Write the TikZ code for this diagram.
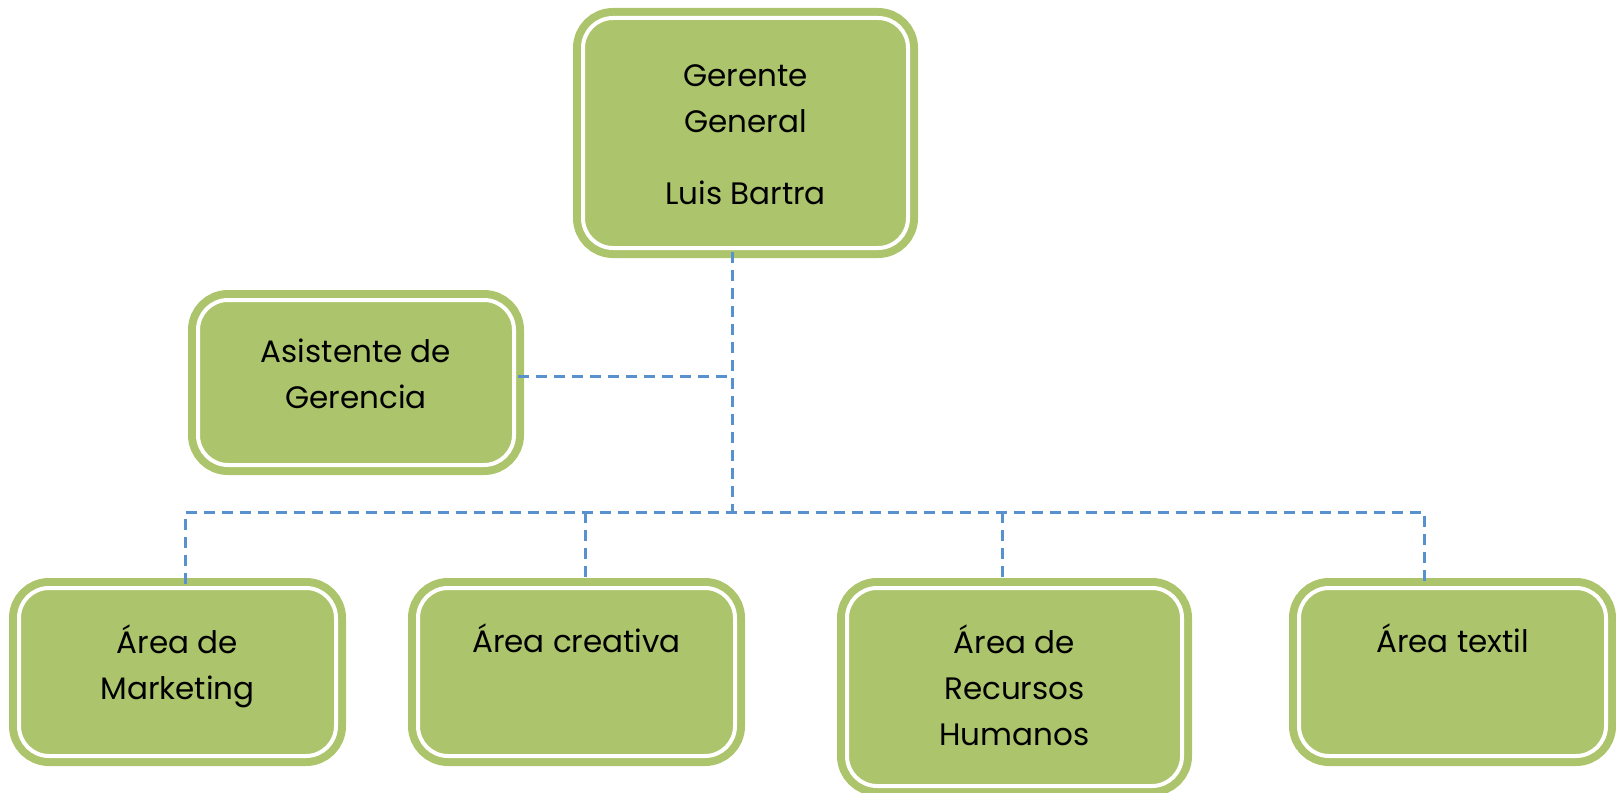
\documentclass[tikz,border=0pt]{standalone}
\usepackage{fontspec}
\setmainfont{Poppins}

\definecolor{boxgreen}{RGB}{172,196,108}
\definecolor{linkblue}{RGB}{88,146,206}

\tikzset{
  box/.style={draw=boxgreen, fill=boxgreen, line width=8pt,
    double=white, double distance=4pt, rounded corners=30pt,
    align=center, inner sep=0pt, font=\fontsize{31}{46}\selectfont},
  link/.style={draw=linkblue, line width=3pt, dash pattern=on 11pt off 7pt}
}

\begin{document}
\begin{tikzpicture}[x=1pt, y=-1pt]

\useasboundingbox (0,0) rectangle (1616,792);

% Boxes
\node[box, minimum width=325pt, minimum height=230pt,
  text height=150pt, text depth=8pt] (gg) at (745.5,133)
  {Gerente\\General\\[26pt]Luis Bartra};
\node[box, minimum width=316pt, minimum height=165pt,
  text height=60pt, text depth=9pt] (asis) at (356,382.5)
  {Asistente de\\Gerencia};
\node[box, minimum width=317pt, minimum height=168pt,
  text height=60pt, text depth=6pt] (mkt) at (177.5,672)
  {Área de\\Marketing};
\node[box, minimum width=317pt, minimum height=168pt,
  text height=20pt, text depth=59pt] (cre) at (576.5,672)
  {Área creativa};
\node[box, minimum width=335pt, minimum height=198pt,
  text height=120pt, text depth=4pt] (rrhh) at (1014.5,687)
  {Área de\\Recursos\\Humanos};
\node[box, minimum width=307pt, minimum height=168pt,
  text height=20pt, text depth=59pt] (tex) at (1452.5,672)
  {Área textil};

% Bus points
\coordinate (tap) at (732,376);
\coordinate (bus) at (732,512);
\coordinate (busL) at (185.5,512);
\coordinate (busR) at (1424,512);
\coordinate (d2) at (585,512);
\coordinate (d3) at (1002,512);

% Connectors
\draw[link] (gg.south -| bus) -- (bus);
\draw[link] (asis.east |- tap) -- (tap);
\draw[link] (mkt.north -| busL) -- (busL) -- (busR) -- (tex.north -| busR);
\draw[link] (d2) -- (cre.north -| d2);
\draw[link] (d3) -- (rrhh.north -| d3);

\end{tikzpicture}
\end{document}
